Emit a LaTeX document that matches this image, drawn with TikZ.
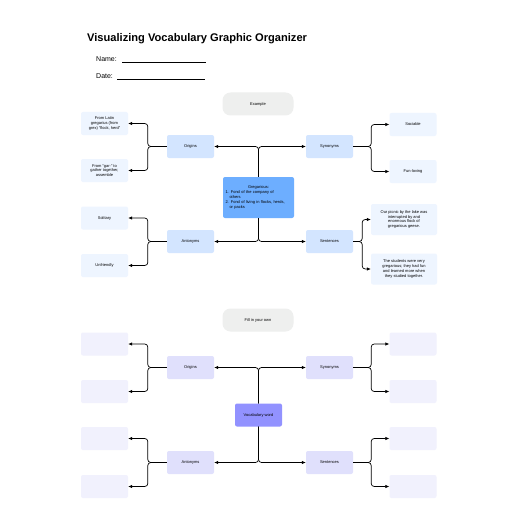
\documentclass[tikz,border=0pt]{standalone}
\usepackage{fontspec}
\setmainfont{Liberation Sans}
\usetikzlibrary{arrows.meta}
\definecolor{bmid}{HTML}{D3E5FF}
\definecolor{bleaf}{HTML}{EEF5FF}
\definecolor{bcen}{HTML}{6DAEFF}
\definecolor{pmid}{HTML}{E0E0FC}
\definecolor{pleaf}{HTML}{F1F1FD}
\definecolor{pcen}{HTML}{9292FF}
\definecolor{pill}{HTML}{EEEFEE}
\tikzset{
  tiny/.style={font=\fontsize{4}{4.8}\selectfont},
  box/.style={rounded corners=2pt, minimum width=47pt, minimum height=23pt, inner sep=1pt, align=center, tiny},
  midbox/.style={box, fill=#1},
  leafbox/.style={box, fill=#1},
  pillbox/.style={rounded corners=8pt, fill=pill, minimum width=71pt, minimum height=23pt, tiny},
  arr/.style={-{Latex[length=4pt,width=3.6pt]}, line width=0.7pt, rounded corners=3pt},
}
\begin{document}
\begin{tikzpicture}[x=1pt,y=-1pt]
\useasboundingbox[fill=white] (0,0) rectangle (516,516);
\node[anchor=west, font=\fontsize{11.1}{13}\bfseries\selectfont, inner sep=0] (title) at (87,39) {Visualizing Vocabulary Graphic Organizer};
\node[anchor=west, font=\fontsize{7}{8}\selectfont, inner sep=0] (name) at (96,59) {Name:};
\draw[line width=0.45pt] (122,62) coordinate (n1) -- (206,62) coordinate (n2);
\node[anchor=west, font=\fontsize{7}{8}\selectfont, inner sep=0] (date) at (96,76) {Date:};
\draw[line width=0.45pt] (117,79) coordinate (d1) -- (205,79) coordinate (d2);

% ---- Example section
\node[pillbox] (ex) at (258,104) {Example};
\node[box, fill=bcen, minimum width=71pt, minimum height=41pt, text width=66pt, align=left] (cen) at (258.5,197.5)
 {\centering Gregarious:\par
  \raggedright 1. Fond of the company of\\\hspace*{4pt}others\\2. Fond of living in flocks, herds,\\\hspace*{4pt}or packs};
\node[midbox=bmid] (ori) at (190.5,146.5) {Origins};
\node[midbox=bmid] (ant) at (190.5,241.5) {Antonyms};
\node[midbox=bmid] (syn) at (329.5,146.5) {Synonyms};
\node[midbox=bmid] (sen) at (329.5,241.5) {Sentences};
\node[leafbox=bleaf] (o1) at (104.5,123.5) {From Latin\\gregarius (from\\grex) ``flock, herd''};
\node[leafbox=bleaf] (o2) at (104.5,170.5) {From ``gar-'' to\\gather together,\\assemble};
\node[leafbox=bleaf] (a1) at (104.5,218) {Solitary};
\node[leafbox=bleaf] (a2) at (104.5,265.5) {Unfriendly};
\node[leafbox=bleaf] (s1) at (413,124.5) {Sociable};
\node[leafbox=bleaf] (s2) at (413,171.5) {Fun-loving};
\node[leafbox=bleaf, minimum width=66pt, minimum height=31pt] (e1) at (404,219.5) {Our picnic by the lake was\\interrupted by and\\enormous flock of\\gregarious geese.};
\node[leafbox=bleaf, minimum width=66pt, minimum height=31pt] (e2) at (404,269) {The students were very\\gregarious; they had fun\\and learned more when\\they studied together.};

\draw[arr] (cen.north) |- (ori.east);
\draw[arr] (cen.north) |- (syn.west);
\draw[arr] (cen.south) |- (ant.east);
\draw[arr] (cen.south) |- (sen.west);
\draw[arr] (ori.west) -- ++(-19,0) |- (o1.east);
\draw[arr] (ori.west) -- ++(-19,0) |- (o2.east);
\draw[arr] (ant.west) -- ++(-19,0) |- (a1.east);
\draw[arr] (ant.west) -- ++(-19,0) |- (a2.east);
\draw[arr] (syn.east) -- ++(18,0) |- (s1.west);
\draw[arr] (syn.east) -- ++(18,0) |- (s2.west);
\draw[arr] (sen.east) -- ++(9,0) |- (e1.west);
\draw[arr] (sen.east) -- ++(9,0) |- (e2.west);

% ---- Fill in section
\node[pillbox] (fill) at (258,320) {Fill in your own};
\node[box, fill=pcen] (voc) at (258.5,415) {Vocabulary word};
\node[midbox=pmid] (ori2) at (190.5,367.5) {Origins};
\node[midbox=pmid] (ant2) at (190.5,462.5) {Antonyms};
\node[midbox=pmid] (syn2) at (329.5,367.5) {Synonyms};
\node[midbox=pmid] (sen2) at (329.5,462.5) {Sentences};
\node[leafbox=pleaf] (p1) at (104.5,344) {};
\node[leafbox=pleaf] (p2) at (104.5,391.5) {};
\node[leafbox=pleaf] (p3) at (104.5,438.5) {};
\node[leafbox=pleaf] (p4) at (104.5,486.5) {};
\node[leafbox=pleaf] (q1) at (413,344) {};
\node[leafbox=pleaf] (q2) at (413,391.5) {};
\node[leafbox=pleaf] (q3) at (413,438.5) {};
\node[leafbox=pleaf] (q4) at (413,486.5) {};

\draw[arr] (voc.north) |- (ori2.east);
\draw[arr] (voc.north) |- (syn2.west);
\draw[arr] (voc.south) |- (ant2.east);
\draw[arr] (voc.south) |- (sen2.west);
\draw[arr] (ori2.west) -- ++(-19,0) |- (p1.east);
\draw[arr] (ori2.west) -- ++(-19,0) |- (p2.east);
\draw[arr] (ant2.west) -- ++(-19,0) |- (p3.east);
\draw[arr] (ant2.west) -- ++(-19,0) |- (p4.east);
\draw[arr] (syn2.east) -- ++(18,0) |- (q1.west);
\draw[arr] (syn2.east) -- ++(18,0) |- (q2.west);
\draw[arr] (sen2.east) -- ++(18,0) |- (q3.west);
\draw[arr] (sen2.east) -- ++(18,0) |- (q4.west);
\end{tikzpicture}
\end{document}
